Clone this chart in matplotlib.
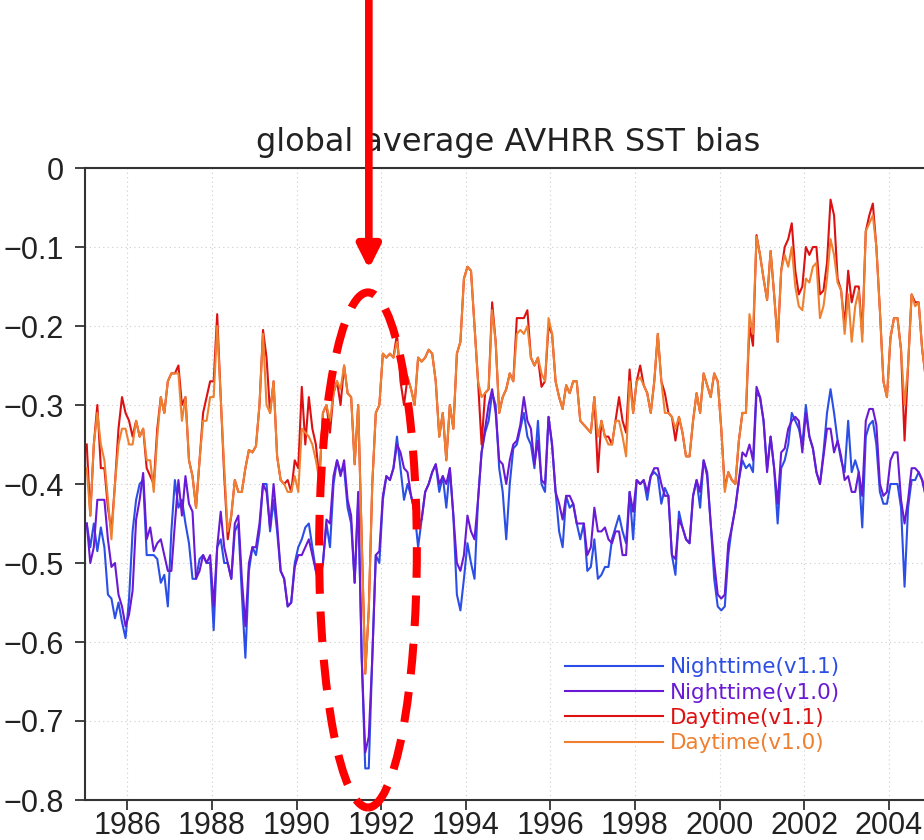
import numpy as np
import matplotlib
matplotlib.use("Agg")
import matplotlib.pyplot as plt
from matplotlib.patches import Ellipse
from matplotlib.ticker import FuncFormatter

# monthly global mean bias, Jan 1985 - Dec 2004 (one row per year)
night_v11 = [
    -0.45, -0.48, -0.45, -0.485, -0.455, -0.48, -0.54, -0.545, -0.57, -0.55, -0.575, -0.595,
    -0.545, -0.46, -0.42, -0.40, -0.395, -0.49, -0.49, -0.49, -0.495, -0.525, -0.515, -0.555,
    -0.46, -0.395, -0.43, -0.42, -0.45, -0.475, -0.52, -0.52, -0.495, -0.49, -0.50, -0.50,
    -0.585, -0.48, -0.47, -0.50, -0.50, -0.52, -0.46, -0.45, -0.54, -0.62, -0.51, -0.48,
    -0.49, -0.46, -0.40, -0.40, -0.46, -0.42, -0.46, -0.51, -0.52, -0.555, -0.55, -0.50,
    -0.48, -0.47, -0.455, -0.45, -0.48, -0.51, -0.53, -0.50, -0.45, -0.48, -0.40, -0.37,
    -0.385, -0.38, -0.43, -0.45, -0.525, -0.42, -0.62, -0.76, -0.76, -0.62, -0.49, -0.50,
    -0.42, -0.39, -0.395, -0.38, -0.34, -0.38, -0.42, -0.40, -0.415, -0.435, -0.48, -0.445,
    -0.41, -0.40, -0.385, -0.375, -0.41, -0.39, -0.43, -0.38, -0.44, -0.54, -0.56, -0.52,
    -0.475, -0.50, -0.52, -0.42, -0.36, -0.335, -0.32, -0.285, -0.30, -0.38, -0.41, -0.47,
    -0.40, -0.355, -0.35, -0.33, -0.31, -0.34, -0.35, -0.38, -0.32, -0.40, -0.41, -0.315,
    -0.35, -0.41, -0.46, -0.48, -0.415, -0.43, -0.425, -0.45, -0.47, -0.45, -0.51, -0.505,
    -0.47, -0.52, -0.515, -0.505, -0.505, -0.47, -0.455, -0.44, -0.46, -0.475, -0.41, -0.47,
    -0.395, -0.40, -0.395, -0.42, -0.39, -0.385, -0.39, -0.425, -0.405, -0.415, -0.49, -0.515,
    -0.435, -0.455, -0.47, -0.475, -0.415, -0.395, -0.43, -0.37, -0.385, -0.45, -0.52, -0.555,
    -0.56, -0.555, -0.49, -0.455, -0.43, -0.395, -0.37, -0.38, -0.375, -0.385, -0.285, -0.29,
    -0.32, -0.38, -0.34, -0.38, -0.45, -0.38, -0.37, -0.35, -0.31, -0.32, -0.33, -0.35,
    -0.30, -0.34, -0.355, -0.385, -0.40, -0.36, -0.31, -0.28, -0.31, -0.345, -0.37, -0.385,
    -0.32, -0.385, -0.37, -0.385, -0.455, -0.34, -0.325, -0.32, -0.35, -0.41, -0.425, -0.425,
    -0.40, -0.40, -0.40, -0.43, -0.53, -0.43, -0.395, -0.395, -0.385, -0.395, -0.415, -0.42,
]

night_v10 = [
    -0.45, -0.50, -0.48, -0.42, -0.42, -0.42, -0.47, -0.505, -0.50, -0.54, -0.555, -0.58,
    -0.565, -0.535, -0.445, -0.42, -0.386, -0.47, -0.455, -0.485, -0.475, -0.47, -0.49, -0.51,
    -0.51, -0.45, -0.395, -0.44, -0.39, -0.425, -0.435, -0.52, -0.51, -0.49, -0.50, -0.49,
    -0.555, -0.48, -0.435, -0.48, -0.50, -0.52, -0.45, -0.44, -0.52, -0.58, -0.50, -0.48,
    -0.48, -0.45, -0.40, -0.41, -0.455, -0.40, -0.45, -0.51, -0.52, -0.555, -0.55, -0.505,
    -0.49, -0.49, -0.48, -0.47, -0.49, -0.51, -0.52, -0.50, -0.445, -0.45, -0.39, -0.37,
    -0.39, -0.37, -0.42, -0.44, -0.525, -0.41, -0.62, -0.74, -0.72, -0.62, -0.49, -0.485,
    -0.415, -0.39, -0.395, -0.38, -0.35, -0.36, -0.38, -0.385, -0.415, -0.435, -0.45, -0.445,
    -0.41, -0.40, -0.385, -0.375, -0.40, -0.39, -0.40, -0.38, -0.44, -0.50, -0.51, -0.49,
    -0.44, -0.46, -0.47, -0.42, -0.36, -0.33, -0.30, -0.28, -0.31, -0.37, -0.375, -0.40,
    -0.37, -0.35, -0.345, -0.325, -0.29, -0.32, -0.33, -0.375, -0.345, -0.395, -0.40, -0.315,
    -0.35, -0.41, -0.425, -0.445, -0.415, -0.415, -0.425, -0.45, -0.45, -0.45, -0.49, -0.48,
    -0.43, -0.46, -0.46, -0.455, -0.47, -0.475, -0.46, -0.46, -0.49, -0.49, -0.41, -0.435,
    -0.395, -0.40, -0.395, -0.41, -0.39, -0.38, -0.38, -0.40, -0.415, -0.415, -0.49, -0.495,
    -0.445, -0.455, -0.47, -0.475, -0.415, -0.395, -0.41, -0.37, -0.39, -0.45, -0.50, -0.54,
    -0.545, -0.54, -0.475, -0.455, -0.43, -0.395, -0.36, -0.365, -0.35, -0.37, -0.277, -0.29,
    -0.32, -0.385, -0.34, -0.38, -0.425, -0.36, -0.355, -0.33, -0.32, -0.315, -0.32, -0.36,
    -0.31, -0.34, -0.355, -0.385, -0.40, -0.365, -0.33, -0.33, -0.36, -0.345, -0.365, -0.395,
    -0.39, -0.41, -0.41, -0.385, -0.415, -0.32, -0.305, -0.305, -0.325, -0.40, -0.415, -0.41,
    -0.37, -0.36, -0.36, -0.42, -0.45, -0.42, -0.38, -0.38, -0.385, -0.395, -0.415, -0.42,
]

day_v11 = [
    -0.35, -0.44, -0.35, -0.30, -0.38, -0.38, -0.43, -0.46, -0.40, -0.33, -0.29, -0.31,
    -0.32, -0.34, -0.32, -0.34, -0.33, -0.38, -0.39, -0.40, -0.33, -0.29, -0.31, -0.27,
    -0.26, -0.26, -0.25, -0.30, -0.29, -0.37, -0.39, -0.43, -0.37, -0.31, -0.29, -0.27,
    -0.27, -0.185, -0.29, -0.39, -0.47, -0.44, -0.395, -0.41, -0.41, -0.38, -0.357, -0.36,
    -0.352, -0.30, -0.205, -0.24, -0.31, -0.27, -0.365, -0.395, -0.40, -0.395, -0.41, -0.37,
    -0.38, -0.277, -0.35, -0.29, -0.33, -0.35, -0.395, -0.31, -0.30, -0.335, -0.285, -0.27,
    -0.30, -0.25, -0.285, -0.29, -0.375, -0.30, -0.47, -0.64, -0.56, -0.40, -0.31, -0.30,
    -0.235, -0.24, -0.235, -0.24, -0.21, -0.27, -0.30, -0.265, -0.28, -0.30, -0.24, -0.245,
    -0.24, -0.23, -0.235, -0.27, -0.34, -0.31, -0.37, -0.30, -0.33, -0.235, -0.22, -0.14,
    -0.125, -0.13, -0.20, -0.27, -0.35, -0.285, -0.28, -0.17, -0.22, -0.31, -0.29, -0.28,
    -0.26, -0.27, -0.19, -0.19, -0.19, -0.18, -0.24, -0.25, -0.24, -0.277, -0.27, -0.20,
    -0.21, -0.27, -0.29, -0.305, -0.275, -0.285, -0.27, -0.27, -0.32, -0.325, -0.33, -0.335,
    -0.29, -0.385, -0.32, -0.34, -0.34, -0.35, -0.32, -0.29, -0.32, -0.335, -0.255, -0.31,
    -0.27, -0.25, -0.275, -0.285, -0.31, -0.27, -0.21, -0.27, -0.285, -0.31, -0.315, -0.345,
    -0.315, -0.335, -0.365, -0.365, -0.32, -0.285, -0.31, -0.26, -0.275, -0.29, -0.26, -0.27,
    -0.33, -0.405, -0.385, -0.395, -0.40, -0.345, -0.31, -0.31, -0.20, -0.225, -0.085, -0.11,
    -0.14, -0.167, -0.105, -0.16, -0.22, -0.13, -0.10, -0.09, -0.07, -0.13, -0.16, -0.15,
    -0.10, -0.11, -0.10, -0.10, -0.16, -0.155, -0.12, -0.04, -0.06, -0.14, -0.155, -0.20,
    -0.13, -0.17, -0.15, -0.15, -0.21, -0.08, -0.06, -0.045, -0.10, -0.18, -0.27, -0.29,
    -0.215, -0.19, -0.19, -0.23, -0.345, -0.25, -0.16, -0.17, -0.17, -0.23, -0.265, -0.29,
]

day_v10 = [
    -0.38, -0.44, -0.35, -0.31, -0.35, -0.37, -0.42, -0.47, -0.40, -0.35, -0.33, -0.33,
    -0.35, -0.35, -0.32, -0.34, -0.33, -0.37, -0.37, -0.41, -0.34, -0.29, -0.31, -0.27,
    -0.26, -0.26, -0.26, -0.32, -0.29, -0.37, -0.39, -0.43, -0.37, -0.32, -0.32, -0.29,
    -0.29, -0.20, -0.29, -0.38, -0.46, -0.44, -0.395, -0.41, -0.41, -0.38, -0.357, -0.36,
    -0.352, -0.30, -0.21, -0.30, -0.31, -0.27, -0.365, -0.395, -0.40, -0.41, -0.41, -0.39,
    -0.41, -0.33, -0.335, -0.34, -0.35, -0.37, -0.395, -0.31, -0.30, -0.32, -0.285, -0.27,
    -0.28, -0.25, -0.285, -0.29, -0.375, -0.30, -0.47, -0.64, -0.56, -0.40, -0.31, -0.30,
    -0.235, -0.24, -0.235, -0.24, -0.22, -0.25, -0.27, -0.265, -0.28, -0.30, -0.24, -0.245,
    -0.24, -0.23, -0.235, -0.27, -0.34, -0.31, -0.37, -0.30, -0.33, -0.235, -0.22, -0.14,
    -0.125, -0.13, -0.20, -0.27, -0.29, -0.285, -0.28, -0.18, -0.22, -0.31, -0.29, -0.28,
    -0.26, -0.27, -0.21, -0.205, -0.21, -0.20, -0.24, -0.25, -0.24, -0.26, -0.27, -0.19,
    -0.21, -0.27, -0.29, -0.305, -0.275, -0.285, -0.27, -0.27, -0.32, -0.325, -0.33, -0.335,
    -0.29, -0.34, -0.32, -0.34, -0.35, -0.35, -0.32, -0.32, -0.34, -0.365, -0.27, -0.31,
    -0.27, -0.265, -0.275, -0.285, -0.31, -0.27, -0.21, -0.27, -0.31, -0.31, -0.315, -0.33,
    -0.315, -0.335, -0.365, -0.365, -0.32, -0.285, -0.31, -0.26, -0.275, -0.29, -0.26, -0.27,
    -0.33, -0.41, -0.385, -0.395, -0.40, -0.345, -0.31, -0.31, -0.185, -0.21, -0.087, -0.11,
    -0.14, -0.167, -0.105, -0.16, -0.22, -0.13, -0.11, -0.125, -0.10, -0.15, -0.175, -0.18,
    -0.14, -0.145, -0.125, -0.12, -0.19, -0.175, -0.14, -0.09, -0.11, -0.145, -0.155, -0.21,
    -0.16, -0.22, -0.175, -0.155, -0.22, -0.08, -0.07, -0.06, -0.10, -0.18, -0.27, -0.29,
    -0.215, -0.19, -0.19, -0.23, -0.30, -0.25, -0.16, -0.175, -0.17, -0.23, -0.265, -0.29,
]

labels = ["Nighttime(v1.1)", "Nighttime(v1.0)", "Daytime(v1.1)", "Daytime(v1.0)"]
colors = ["#2b4fe6", "#6a1ad4", "#dd1111", "#ee8030"]
year_ticks = list(range(1986, 2006, 2))

years = 1985 + (np.arange(len(day_v10)) + 0.5) / 12.0

plt.rcParams["font.family"] = ["DejaVu Sans"]

fig = plt.figure(figsize=(9.24, 8.4), dpi=100)
# axes runs slightly past the right edge, like the cropped original
ax = fig.add_axes([85 / 924, 40 / 840, 846 / 924, 632 / 840])

for series, lab, col in zip([night_v11, night_v10, day_v11, day_v10], labels, colors):
    ax.plot(years, series, color=col, lw=1.5, label=lab)

ax.set_xlim(1985, 2005)
ax.set_ylim(-0.8, 0)
ax.set_xticks(year_ticks)
ax.set_yticks(np.arange(-0.8, 0.01, 0.1))
ax.yaxis.set_major_formatter(FuncFormatter(
    lambda v, p: "0" if abs(v) < 1e-9 else ("%.1f" % v).replace("-", "\u2212")))
ax.tick_params(direction="out", length=7, width=1.3, color="#333333",
               labelcolor="#222222")
ax.tick_params(axis="x", pad=1.2)
ax.tick_params(axis="y", pad=8.5)
for t in ax.get_xticklabels() + ax.get_yticklabels():
    t.set_fontfamily("Liberation Sans")
    t.set_fontsize(22)
ax.grid(True, color="#cccccc", lw=0.8, linestyle=(0, (1, 3)))
for s in ax.spines.values():
    s.set_color("#333333")
    s.set_linewidth(1.5)

ax.set_title("global average AVHRR SST bias", fontsize=23, color="#222222", pad=12)

leg = ax.legend(loc="upper left", bbox_to_anchor=(0.567, 0.226), frameon=False,
                fontsize=15.5, handlelength=4.55, handletextpad=0.33, labelspacing=0.25,
                borderpad=0, borderaxespad=0, labelcolor="linecolor")

# red highlight of the 1991 Pinatubo dip
ax.annotate("", xy=(1991.71, -0.128), xytext=(1991.71, 0.22),
            arrowprops=dict(arrowstyle="-|>", color="red", lw=5.5,
                            mutation_scale=34, shrinkA=0, shrinkB=0),
            annotation_clip=False, zorder=6)
ell = Ellipse((1991.69, -0.4835), 2.31, 0.652, fill=False, edgecolor="red",
              lw=5.8, linestyle=(0, (3.8, 2.2)), clip_on=False, zorder=6)
ax.add_patch(ell)

fig.savefig("out.png", dpi=100)
